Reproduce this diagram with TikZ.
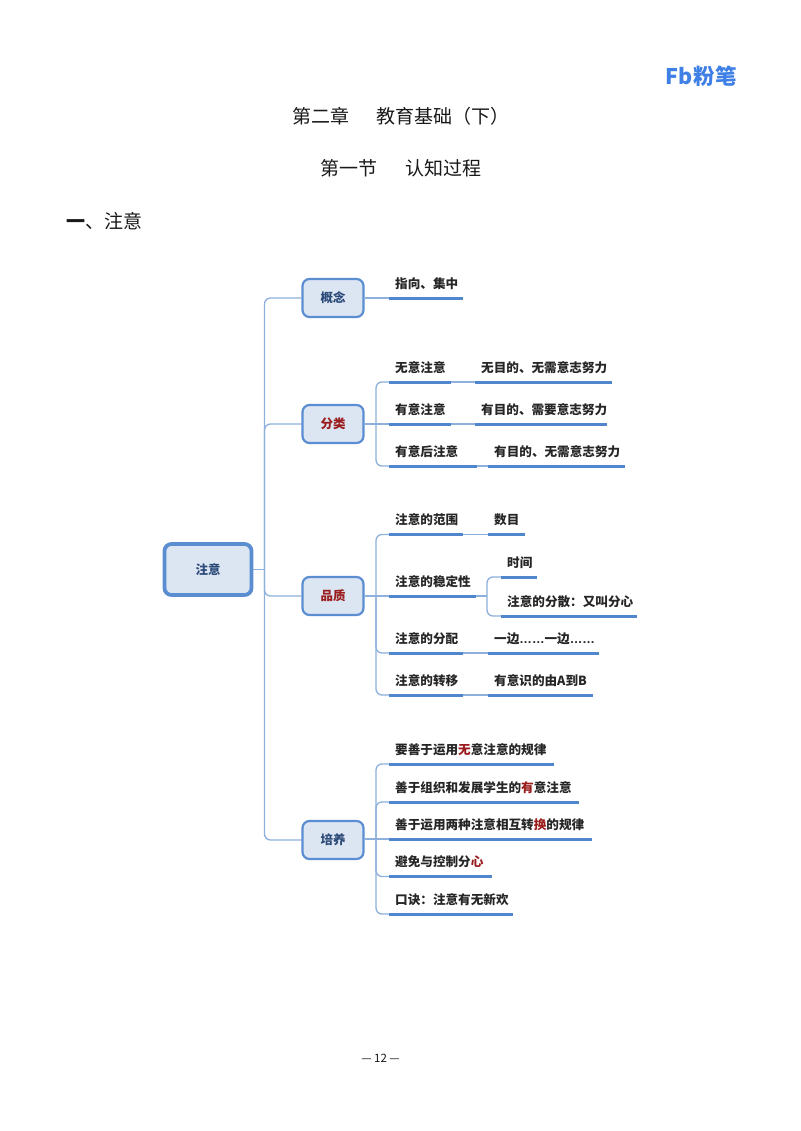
\documentclass[tikz,border=0pt]{standalone}
\usepackage{fontspec}
\setmainfont{Noto Sans CJK SC}
\newfontfamily\dotsfont{Liberation Sans}
\definecolor{boxfill}{HTML}{DCE6F3}
\definecolor{boxline}{HTML}{5B8ED0}
\definecolor{linkline}{HTML}{8DB0DC}
\definecolor{underline}{HTML}{4F86CC}
\definecolor{boxtext}{HTML}{2C4A78}
\definecolor{keyred}{HTML}{9A1C1C}
\definecolor{logoblue}{HTML}{3F80E6}
\newcommand{\hl}[1]{\textcolor{keyred}{#1}}
\tikzset{
	root/.style={draw=boxline,fill=boxfill,line width=3.8pt,rounded corners=7pt,minimum width=87pt,minimum height=51pt,inner sep=0pt,font=\fontsize{12.5}{14}\selectfont\bfseries,text=boxtext},
	topic/.style={draw=boxline,fill=boxfill,line width=2.2pt,rounded corners=7pt,minimum width=61pt,minimum height=38pt,inner sep=0pt,font=\fontsize{12.5}{14}\selectfont\bfseries,text=boxtext},
	redtopic/.style={topic,text=keyred},
	leaf/.style={anchor=south west,text width=#1-12pt,inner xsep=6pt,inner ysep=0pt,minimum height=29pt,align=left,font=\fontsize{12.6}{14}\selectfont\bfseries,text=black!85},
	link/.style={draw=linkline,line width=1.3pt,rounded corners=6pt},
	under/.style={draw=underline,line width=3pt},
	heading/.style={anchor=west,inner sep=0pt,font=\fontsize{19}{22}\selectfont,text=black!90}
}
\begin{document}
\begin{tikzpicture}[x=1pt,y=-1pt]
\useasboundingbox[fill=white] (0,0) rectangle (800,1131);
% page text
\node[anchor=east,inner sep=0pt,font=\fontsize{21.5}{24}\selectfont\bfseries,text=logoblue] (logo) at (737,76) {Fb\hspace{1pt}粉笔};
\node[heading] (chapter) at (292,116) {第二章\hspace{27pt}教育基础（下）};
\node[heading] (section) at (320,168) {第一节\hspace{28pt}认知过程};
\node[heading] (part) at (66,221) {\textbf{一}、注意};
\node[font=\fontsize{11.5}{14}\selectfont,text=black!90] (pagenum) at (380.5,1058) {— 12 —};
% boxes
\node[root] (attention) at (208,569.5) {注意};
\node[topic] (concept) at (333,298) {\raisebox{-1pt}{概念}};
\node[redtopic] (kinds) at (333,424) {\raisebox{-1pt}{分类}};
\node[redtopic] (quality) at (333,596) {\raisebox{-1pt}{品质}};
\node[topic] (training) at (333,840) {\raisebox{-1pt}{培养}};
\coordinate (trunk) at (264.5,569.5);
\coordinate (kindsfork) at (376,424);
\coordinate (qualityfork) at (376,596);
\coordinate (trainfork) at (376,839);
\coordinate (steadyfork) at (487,596);
% concept
\node[leaf=74pt] (pointing) at (389,298) {指向、集中};
% kinds
\node[leaf=62pt] (kindA) at (389,382) {无意注意};
\node[leaf=137pt] (kindAd) at (475,382) {无目的、无需意志努力};
\node[leaf=62pt] (kindB) at (389,424) {有意注意};
\node[leaf=132pt] (kindBd) at (475,424) {有目的、需要意志努力};
\node[leaf=88pt] (kindC) at (389,466) {有意后注意};
\node[leaf=137pt] (kindCd) at (488,466) {有目的、无需意志努力};
% quality
\node[leaf=74pt] (range) at (389,534.5) {注意的范围};
\node[leaf=37pt] (ranged) at (488,534.5) {数目};
\node[leaf=87pt] (steady) at (389,596) {注意的稳定性};
\node[leaf=36pt] (steadyA) at (501,577) {时间};
\node[leaf=136pt] (steadyB) at (501,616) {注意的分散：又叫分心};
\node[leaf=74pt] (share) at (389,653) {注意的分配};
\node[leaf=111pt] (shared) at (488,653) {一边{\dotsfont ……}一边{\dotsfont ……}};
\node[leaf=74pt] (shift) at (389,695) {注意的转移};
\node[leaf=105pt] (shiftd) at (488,695) {有意识的由A到B};
% training
\node[leaf=165pt] (trainA) at (389,764) {要善于运用\hl{无}意注意的规律};
\node[leaf=190pt] (trainB) at (389,802) {善于组织和发展学生的\hl{有}意注意};
\node[leaf=203pt] (trainC) at (389,839) {善于运用两种注意相互转\hl{换}的规律};
\node[leaf=103pt] (trainD) at (389,876.5) {避免与控制分\hl{心}};
\node[leaf=124pt] (trainE) at (389,914) {口诀：注意有无新欢};
% connectors
\draw[link] (attention.east) -- (trunk);
\foreach \t in {concept,kinds,quality,training}
	\draw[link] (trunk) |- (\t.west);
\draw[link] (concept.east) -- (pointing.south west);
\draw[link] (kinds.east) -- (kindB.south west);
\foreach \t in {kindA,kindC}
	\draw[link] (kindsfork) |- (\t.south west);
\draw[link] (quality.east) -- (steady.south west);
\foreach \t in {range,share,shift}
	\draw[link] (qualityfork) |- (\t.south west);
\draw[link] (steady.south east) -- (steadyfork);
\foreach \t in {steadyA,steadyB}
	\draw[link] (steadyfork) |- (\t.south west);
\draw[link] (training.east |- trainC.south west) -- (trainC.south west);
\foreach \t in {trainA,trainB,trainD,trainE}
	\draw[link] (trainfork) |- (\t.south west);
\draw[link] (kindA.south east) -- (kindAd.south west);
\draw[link] (kindB.south east) -- (kindBd.south west);
\draw[link] (kindC.south east) -- (kindCd.south west);
\draw[link] (range.south east) -- (ranged.south west);
\draw[link] (share.south east) -- (shared.south west);
\draw[link] (shift.south east) -- (shiftd.south west);
% underlines
\foreach \t in {pointing,kindA,kindAd,kindB,kindBd,kindC,kindCd,range,ranged,steady,steadyA,steadyB,share,shared,shift,shiftd,trainA,trainB,trainC,trainD,trainE}
	\draw[under] (\t.south west) -- (\t.south east);
\end{tikzpicture}
\end{document}
